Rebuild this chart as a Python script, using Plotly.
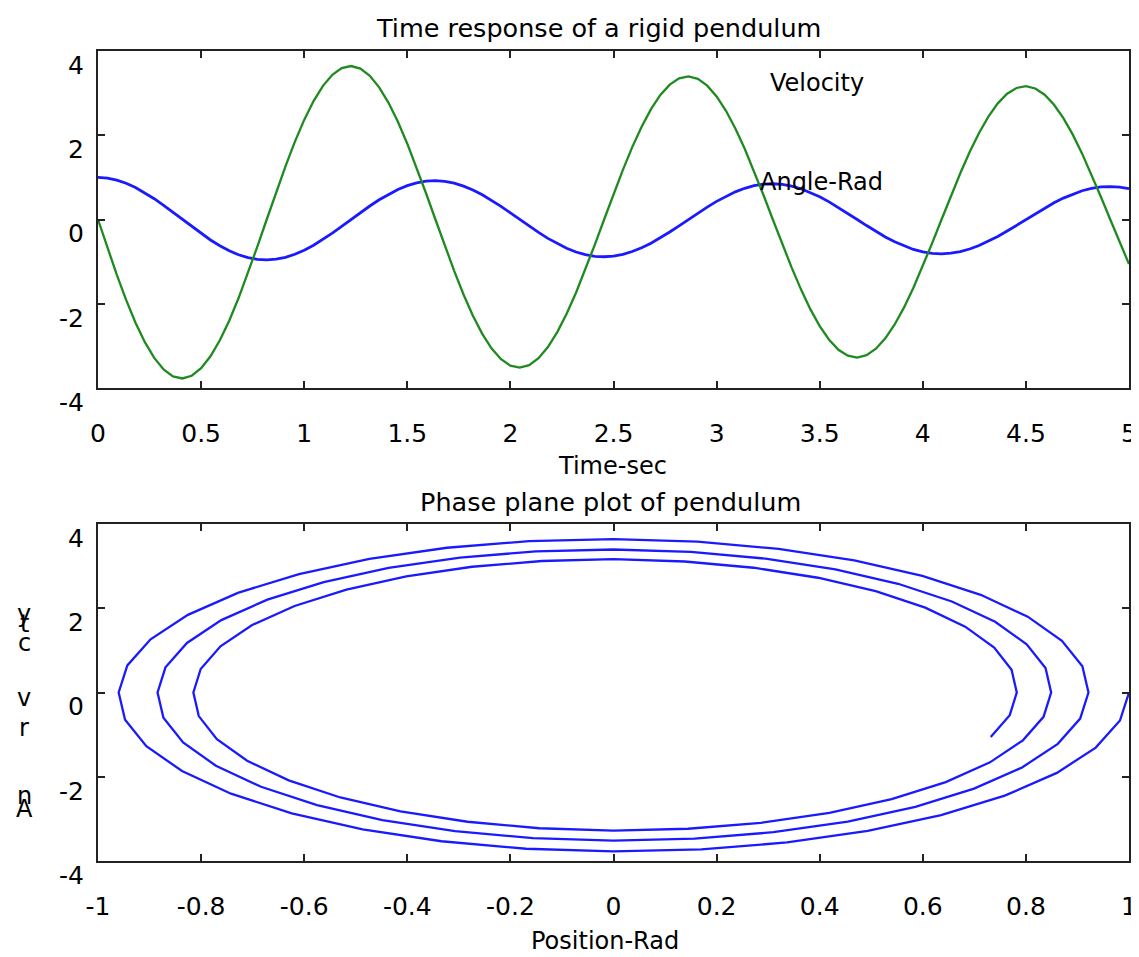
import plotly.graph_objects as go

# time samples (s)
time_sec = [0, 0.0455, 0.0909, 0.1364, 0.1818, 0.2273, 0.2727, 0.3182, 0.3636, 0.4091, 0.4545,
            0.5, 0.5455, 0.5909, 0.6364, 0.6818, 0.7273, 0.7727, 0.8182, 0.8636, 0.9091, 0.9545,
            1.0, 1.0455, 1.0909, 1.1364, 1.1818, 1.2273, 1.2727, 1.3182, 1.3636, 1.4091, 1.4545,
            1.5, 1.5455, 1.5909, 1.6364, 1.6818, 1.7273, 1.7727, 1.8182, 1.8636, 1.9091, 1.9545,
            2.0, 2.0455, 2.0909, 2.1364, 2.1818, 2.2273, 2.2727, 2.3182, 2.3636, 2.4091, 2.4545,
            2.5, 2.5455, 2.5909, 2.6364, 2.6818, 2.7273, 2.7727, 2.8182, 2.8636, 2.9091, 2.9545,
            3.0, 3.0455, 3.0909, 3.1364, 3.1818, 3.2273, 3.2727, 3.3182, 3.3636, 3.4091, 3.4545,
            3.5, 3.5455, 3.5909, 3.6364, 3.6818, 3.7273, 3.7727, 3.8182, 3.8636, 3.9091, 3.9545,
            4.0, 4.0455, 4.0909, 4.1364, 4.1818, 4.2273, 4.2727, 4.3182, 4.3636, 4.4091, 4.4545,
            4.5, 4.5455, 4.5909, 4.6364, 4.6818, 4.7273, 4.7727, 4.8182, 4.8636, 4.9091, 4.9545,
            5.0]

# angle (rad)
angle_rad = [1.0, 0.9825, 0.9355, 0.8601, 0.7590, 0.6355, 0.4932, 0.3366, 0.1705, 0.0,
             -0.1697, -0.3336, -0.4866, -0.6241, -0.7420, -0.8370, -0.9062, -0.9475, -0.9599,
             -0.9431, -0.8980, -0.8256, -0.7287, -0.6101, -0.4735, -0.3231, -0.1637, 0.0,
             0.1629, 0.3202, 0.4671, 0.5991, 0.7123, 0.8035, 0.8699, 0.9096, 0.9214,
             0.9053, 0.8619, 0.7926, 0.6994, 0.5856, 0.4545, 0.3102, 0.1571, 0.0,
             -0.1564, -0.3074, -0.4484, -0.5751, -0.6837, -0.7713, -0.8350, -0.8731, -0.8845,
             -0.8691, -0.8274, -0.7608, -0.6714, -0.5621, -0.4363, -0.2977, -0.1508, 0.0,
             0.1501, 0.2950, 0.4304, 0.5520, 0.6563, 0.7403, 0.8015, 0.8381, 0.8490,
             0.8342, 0.7942, 0.7303, 0.6445, 0.5396, 0.4188, 0.2858, 0.1447, 0.0,
             -0.1441, -0.2832, -0.4132, -0.5299, -0.6300, -0.7107, -0.7694, -0.8045, -0.8150,
             -0.8008, -0.7624, -0.7010, -0.6187, -0.5180, -0.4020, -0.2743, -0.1389, 0.0,
             0.1383, 0.2719, 0.3966, 0.5086, 0.6048, 0.6822, 0.7385, 0.7722, 0.7823,
             0.7687, 0.7318]

# angular velocity (rad/s)
velocity = [0.0, -0.6654, -1.308, -1.909, -2.449, -2.913, -3.286, -3.560, -3.724, -3.773,
            -3.709, -3.531, -3.248, -2.868, -2.402, -1.865, -1.273, -0.6448, 0.0,
            0.6423, 1.263, 1.843, 2.365, 2.812, 3.173, 3.436, 3.595, 3.643,
            3.581, 3.410, 3.137, 2.769, 2.319, 1.800, 1.229, 0.6225, 0.0,
            -0.6201, -1.219, -1.779, -2.283, -2.715, -3.063, -3.317, -3.470, -3.517,
            -3.457, -3.292, -3.028, -2.673, -2.238, -1.738, -1.186, -0.6010, 0.0,
            0.5986, 1.177, 1.718, 2.204, 2.621, 2.957, 3.202, 3.350, 3.395,
            3.337, 3.178, 2.923, 2.581, 2.161, 1.678, 1.145, 0.5803, 0.0,
            -0.5779, -1.136, -1.658, -2.128, -2.531, -2.855, -3.093, -3.234, -3.278,
            -3.222, -3.068, -2.822, -2.492, -2.087, -1.620, -1.106, -0.5602, 0.0,
            0.5581, 1.097, 1.601, 2.054, 2.443, 2.757, 2.985, 3.122, 3.164,
            3.110, 2.962, 2.724, 2.405, 2.014, 1.564, 1.067, 0.5408, 0.0,
            -0.5387, -1.059]

x_ticks_top = [0, 0.5, 1, 1.5, 2, 2.5, 3, 3.5, 4, 4.5, 5]
x_ticklabels_top = ["0", "0.5", "1", "1.5", "2", "2.5", "3", "3.5", "4", "4.5", "5"]
y_ticks = [-4, -2, 0, 2, 4]
y_ticklabels = ["-4", "-2", "0", "2", "4"]
x_ticks_bot = [-1, -0.8, -0.6, -0.4, -0.2, 0, 0.2, 0.4, 0.6, 0.8, 1]
x_ticklabels_bot = ["-1", "-0.8", "-0.6", "-0.4", "-0.2", "0", "0.2", "0.4", "0.6", "0.8", "1"]

# page offset (default body margin) compensated: figure starts at page (8, 8)
OFF = 8
W, H = 1139 - OFF, 957 - OFF
FONT = "DejaVu Sans, Liberation Sans, Arial, sans-serif"

def px(x):
    return (x - OFF) / W

def py(y):
    return 1 - (y - OFF) / H

fig = go.Figure()
fig.add_trace(go.Scatter(x=time_sec, y=angle_rad, mode="lines",
                         line=dict(color="#1a1aff", width=2.8), xaxis="x", yaxis="y",
                         name="Angle-Rad"))
fig.add_trace(go.Scatter(x=time_sec, y=velocity, mode="lines",
                         line=dict(color="#1f8a1f", width=2.3), xaxis="x", yaxis="y",
                         name="Velocity"))
fig.add_trace(go.Scatter(x=angle_rad, y=velocity, mode="lines",
                         line=dict(color="#1a1aff", width=2.3), xaxis="x2", yaxis="y2",
                         name="Phase"))

axis_common = dict(showline=True, linecolor="#222222", linewidth=2, mirror="ticks",
                   ticks="inside", ticklen=7, tickwidth=2, tickcolor="#222222",
                   showgrid=False, zeroline=False, automargin=False,
                   tickfont=dict(family=FONT, size=25, color="black"))
xaxis_extra = dict(ticklabelstandoff=22)
yaxis_extra = dict(ticklabelstandoff=7, ticklabelshift=14)

fig.update_layout(
    template="none",
    width=W, height=H,
    margin=dict(l=0, r=0, t=0, b=0, pad=0, autoexpand=False),
    paper_bgcolor="white", plot_bgcolor="white",
    showlegend=False,
    xaxis=dict(domain=[px(98), px(1129)], range=[0, 5], anchor="y",
               tickvals=x_ticks_top, ticktext=x_ticklabels_top, **axis_common, **xaxis_extra),
    yaxis=dict(domain=[py(388), py(51)], range=[-4, 4], anchor="x",
               tickvals=y_ticks, ticktext=y_ticklabels, **axis_common, **yaxis_extra),
    xaxis2=dict(domain=[px(98), px(1129)], range=[-1, 1], anchor="y2",
                tickvals=x_ticks_bot, ticktext=x_ticklabels_bot, **axis_common, **xaxis_extra),
    yaxis2=dict(domain=[py(861), py(524)], range=[-4, 4], anchor="x2",
                tickvals=y_ticks, ticktext=y_ticklabels, **axis_common, **yaxis_extra),
)

def label(text, x, y, size=24, xanchor="center", xref="paper", yref="paper"):
    fig.add_annotation(text=text, x=x, y=y, xref=xref, yref=yref, showarrow=False,
                       xanchor=xanchor, yanchor="middle",
                       font=dict(family=FONT, size=size, color="black"))

label("Time response of a rigid pendulum", px(598), py(28), size=25.5)
label("Time-sec", px(612), py(466))
label("Phase plane plot of pendulum", px(610), py(502), size=25.5)
label("Position-Rad", px(605), py(941))

# in-plot text labels
label("Velocity", 3.25, 3.25, xanchor="left", xref="x", yref="y")
label("Angle-Rad", 3.2, 0.9, xanchor="left", xref="x", yref="y")

# garbled vertical y-label of the lower plot, as it appears
for ch, ypix in [("y", 614), ("t", 624), ("c", 643), ("v", 698), ("r", 728), ("n", 796), ("A", 809)]:
    label(ch, px(24), py(ypix))

fig.write_html("out.html")
